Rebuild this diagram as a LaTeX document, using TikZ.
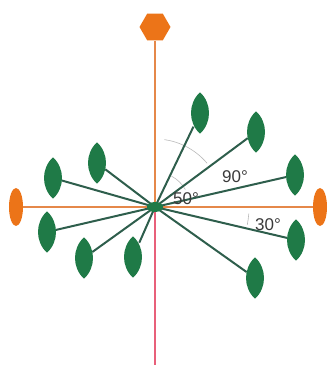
\documentclass[tikz,border=0pt]{standalone}
\usepackage{fontspec}
\setmainfont{Liberation Sans}
\definecolor{LeafGreen}{HTML}{1F7A47}
\definecolor{StemGreen}{HTML}{2E5E4C}
\definecolor{AxisOrange}{HTML}{EC7418}
\definecolor{AxisLine}{HTML}{E5884A}
\definecolor{AxisRed}{HTML}{E8607A}
\definecolor{LabelGray}{HTML}{3A3A3A}
\usetikzlibrary{shapes.geometric}

\begin{document}
\begin{tikzpicture}[x=1pt,y=1pt,
  every node/.style={font=\fontsize{17}{19}\selectfont, text=LabelGray},
  leaf/.style={ellipse, minimum width=17pt, minimum height=41pt, inner sep=0pt},
  endcap/.style={ellipse, fill=AxisOrange, minimum width=14pt, minimum height=38pt, inner sep=0pt},
  stem/.style={StemGreen, line width=2pt},
  anglearc/.style={gray!55, line width=0.6pt}]
  \useasboundingbox (-155,-162) rectangle (174,207);
  % axes
  \node[regular polygon, regular polygon sides=6, fill=AxisOrange,
        minimum size=31pt, inner sep=0pt] (top) at (0,180) {};
  \node[endcap] (west) at (-139,0) {};
  \node[endcap] (east) at (165,0) {};
  \coordinate (bottom) at (0,-158);
  \node[ellipse, minimum width=16pt, minimum height=10pt, inner sep=0pt] (hub) at (0,0) {};
  \draw[AxisLine, line width=2pt] (top) -- (hub.center);
  \draw[AxisRed, line width=2pt] (hub.center) -- (bottom);
  \draw[AxisLine, line width=2pt] (west) -- (east);
  % angle marks
  \draw[anglearc] (82:68pt) arc[start angle=82, end angle=40, radius=68pt];
  \draw[anglearc] (62:35pt) arc[start angle=62, end angle=30, radius=35pt];
  \draw[anglearc] (-4:94pt) arc[start angle=-4, end angle=-11, radius=94pt];
  % leaves
  \foreach \i/\x/\y in {1/45/94,2/101/75,3/140/32,4/141/-33,5/100/-71,
                        6/-22/-50,7/-71/-51,8/-108/-25,9/-102/29,10/-58/44}
    \node[leaf] (l\i) at (\x,\y) {};
  \foreach \i in {1,...,10}
    \draw[stem] (hub.center) -- (l\i);
  \foreach \i in {1,...,10}
    \fill[LeafGreen] (l\i.north) to[out=-42,in=42] (l\i.south)
                     to[out=138,in=222] (l\i.north);
  \fill[LeafGreen] (hub) ellipse[x radius=8pt, y radius=5pt];
  % labels
  \node (a90) at (80,30) {90°};
  \node (a50) at (31,8) {50°};
  \node (a30) at (113,-18) {30°};
\end{tikzpicture}
\end{document}
